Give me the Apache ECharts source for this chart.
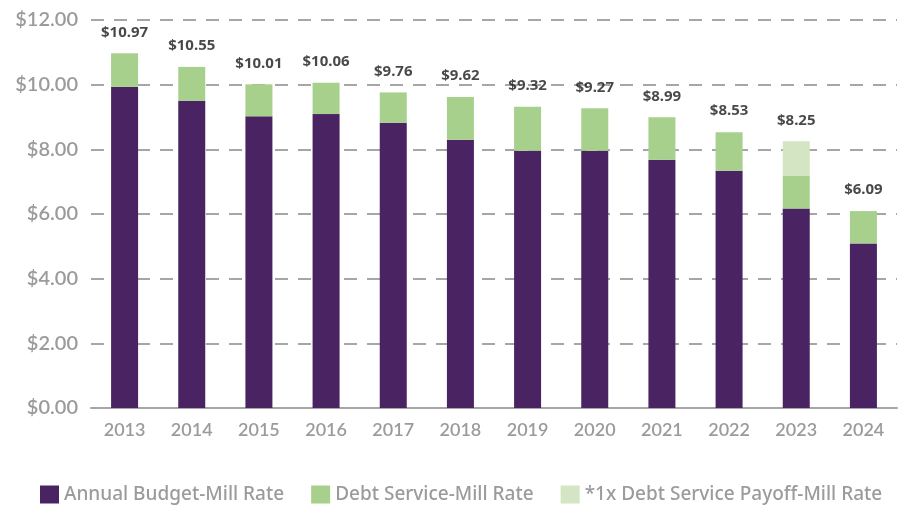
<!DOCTYPE html>
<html>
<head>
<meta charset="utf-8">
<script src="https://cdn.jsdelivr.net/npm/echarts@6/dist/echarts.min.js"></script>
<style>
  html, body { margin: 0; padding: 0; background: #fff; }
  #chart { width: 906px; height: 506px; }
</style>
</head>
<body>
<div id="chart"></div>
<script>
const years = ['2013', '2014', '2015', '2016', '2017', '2018', '2019', '2020', '2021', '2022', '2023', '2024']
const annualBudget = [9.93, 9.50, 9.02, 9.09, 8.82, 8.30, 7.96, 7.96, 7.68, 7.34, 6.17, 5.09]
const debtService = [1.04, 1.05, 0.99, 0.97, 0.94, 1.32, 1.36, 1.31, 1.31, 1.19, 1.02, 1.00]
const debtPayoff = [0, 0, 0, 0, 0, 0, 0, 0, 0, 0, 1.06, 0]
const totals = [10.97, 10.55, 10.01, 10.06, 9.76, 9.62, 9.32, 9.27, 8.99, 8.53, 8.25, 6.09]

const chart = echarts.init(document.getElementById('chart'))

const grey = '#9b9b9b'
const font = 'Lato'

const option = {
    animation: false,
    grid: {
        left: 91,
        right: 9,
        top: 20,
        bottom: 98
    },
    legend: {
        left: 40,
        top: 485,
        padding: 0,
        itemWidth: 19,
        itemHeight: 18,
        itemGap: 27,
        icon: 'rect',
        data: ['Annual Budget-Mill Rate', 'Debt Service-Mill Rate', '*1x Debt Service Payoff-Mill Rate'],
        textStyle: {
            color: grey,
            fontSize: 19,
            fontFamily: 'Noto Sans',
            fontWeight: 500
        }
    },
    xAxis: {
        type: 'category',
        data: years,
        axisTick: { show: false },
        axisLine: { lineStyle: { color: '#a6a6a6', width: 2 } },
        axisLabel: {
            color: grey,
            fontSize: 18,
            fontFamily: font,
            fontWeight: 600,
            margin: 13
        }
    },
    yAxis: {
        type: 'value',
        min: 0,
        max: 12,
        interval: 2,
        axisLine: { show: false },
        axisTick: { show: false },
        axisLabel: {
            color: grey,
            fontSize: 20,
            fontFamily: font,
            fontWeight: 600,
            margin: 13,
            formatter(v) {
                return '$' + v.toFixed(2)
            }
        },
        splitLine: {
            show: true,
            lineStyle: {
                color: '#a6a6a6',
                width: 2,
                type: [13, 10]
            }
        }
    },
    series: [
        {
            name: 'Annual Budget-Mill Rate',
            type: 'bar',
            stack: 'rate',
            barWidth: 27,
            itemStyle: { color: '#4a2362' },
            data: annualBudget
        },
        {
            name: 'Debt Service-Mill Rate',
            type: 'bar',
            stack: 'rate',
            itemStyle: { color: '#a8d08d' },
            data: debtService
        },
        {
            name: '*1x Debt Service Payoff-Mill Rate',
            type: 'bar',
            stack: 'rate',
            itemStyle: { color: '#d3e5c2' },
            data: debtPayoff
        },
        {
            name: 'total',
            type: 'scatter',
            symbolSize: 1,
            itemStyle: { color: 'rgba(0,0,0,0)' },
            data: totals,
            label: {
                show: true,
                position: 'top',
                distance: 13,
                color: '#1a1a1a',
                fontSize: 15,
                fontFamily: 'Noto Sans',
                fontWeight: 'bold',
                formatter(params) {
                    return '$' + params.value.toFixed(2)
                }
            }
        }
    ]
}

chart.setOption(option)
</script>
</body>
</html>
